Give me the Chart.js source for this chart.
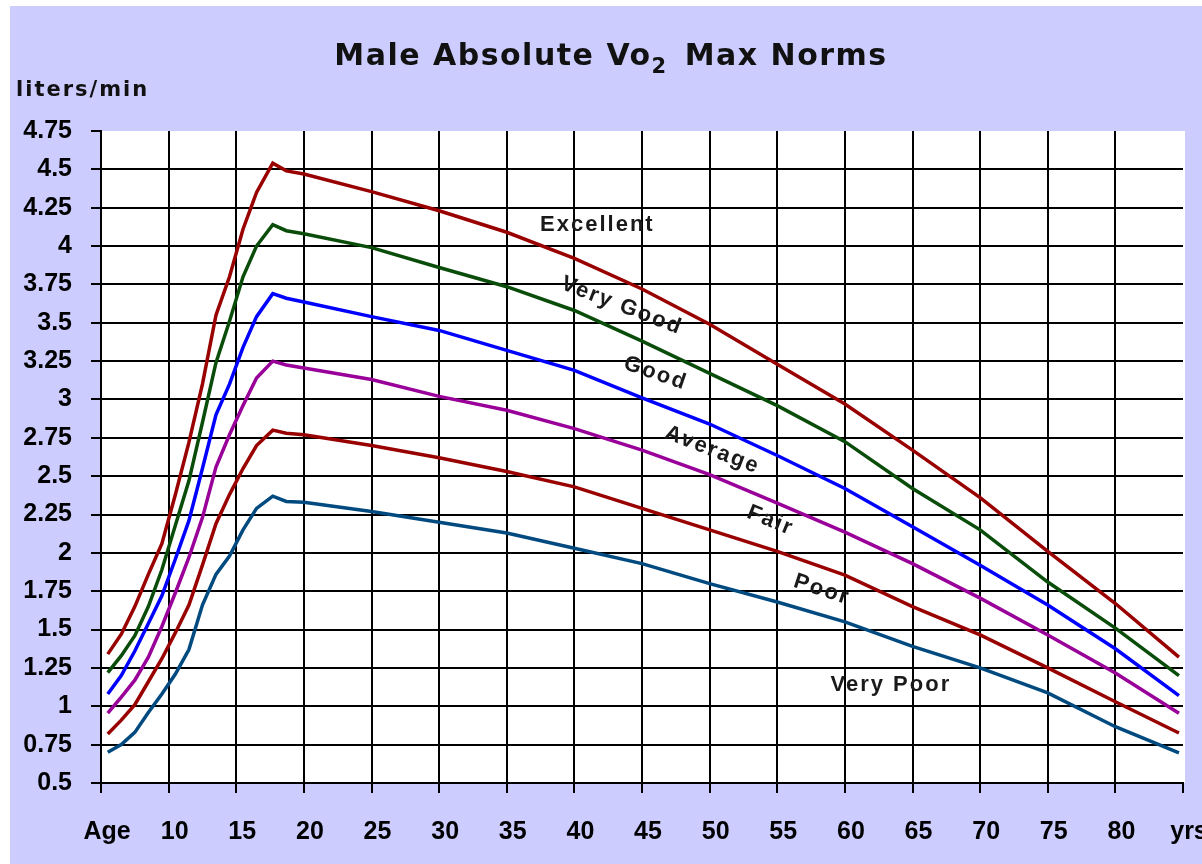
<!DOCTYPE html>
<html>
<head>
<meta charset="utf-8">
<title>Male Absolute Vo2 Max Norms</title>
<script src="https://cdn.jsdelivr.net/npm/chart.js@4.4.1/dist/chart.umd.min.js"></script>
<style>
  html, body { margin: 0; padding: 0; background: #fff; }
</style>
</head>
<body>
<canvas id="vo2Chart" width="1202" height="864"></canvas>
<script>
// Age in years (x) and VO2 max in liters/min (y)
const ages      = [5.5, 6.5, 7.5, 8.5, 9.5, 10.5, 11.5, 12.5, 13.5, 14.5, 15.5, 16.5, 17.7, 18.7, 20, 25, 30, 35, 40, 45, 50, 55, 60, 65, 70, 75, 80, 84.7];
const excellent = [1.34, 1.47, 1.65, 1.86, 2.06, 2.38, 2.72, 3.1, 3.55, 3.8, 4.11, 4.35, 4.54, 4.49, 4.47, 4.355, 4.23, 4.09, 3.92, 3.72, 3.49, 3.23, 2.97, 2.67, 2.36, 2.01, 1.67, 1.32];
const veryGood  = [1.22, 1.33, 1.46, 1.65, 1.89, 2.18, 2.47, 2.85, 3.24, 3.51, 3.8, 4.0, 4.14, 4.1, 4.08, 3.99, 3.86, 3.735, 3.58, 3.38, 3.17, 2.96, 2.725, 2.42, 2.15, 1.81, 1.51, 1.2];
const good      = [1.08, 1.2, 1.36, 1.54, 1.72, 1.96, 2.21, 2.55, 2.9, 3.1, 3.34, 3.54, 3.69, 3.66, 3.635, 3.54, 3.45, 3.32, 3.19, 3.01, 2.84, 2.635, 2.42, 2.17, 1.92, 1.66, 1.375, 1.07];
const average   = [0.955, 1.06, 1.17, 1.32, 1.52, 1.74, 1.97, 2.23, 2.56, 2.77, 2.96, 3.14, 3.25, 3.225, 3.205, 3.13, 3.02, 2.93, 2.81, 2.67, 2.51, 2.325, 2.135, 1.93, 1.705, 1.465, 1.217, 0.955];
const fair      = [0.82, 0.91, 1.01, 1.16, 1.31, 1.48, 1.66, 1.92, 2.19, 2.38, 2.55, 2.7, 2.8, 2.78, 2.77, 2.7, 2.62, 2.53, 2.43, 2.29, 2.15, 2.01, 1.855, 1.65, 1.465, 1.25, 1.03, 0.826];
const veryPoor  = [0.7, 0.75, 0.83, 0.96, 1.08, 1.21, 1.37, 1.66, 1.86, 1.98, 2.15, 2.29, 2.37, 2.335, 2.33, 2.27, 2.2, 2.13, 2.03, 1.93, 1.8, 1.68, 1.55, 1.39, 1.25, 1.087, 0.867, 0.696];

// Axis range and tick labels
const ageMin = 5, ageMax = 85, ageStep = 5;
const voMin = 0.5, voMax = 4.75, voStep = 0.25;
const firstAgeLabel = 'Age';
const lastAgeLabel = 'yrs';

// Curve captions drawn on the plot (age, value, rotation in degrees)
const curveLabels = [
  { text: 'Excellent', age: 41.7, value: 4.14, angle: 0 },
  { text: 'Very Good', age: 43.5, value: 3.61, angle: 21 },
  { text: 'Good',      age: 46.0, value: 3.17, angle: 19 },
  { text: 'Average',   age: 50.2, value: 2.67, angle: 21 },
  { text: 'Fair',      age: 54.5, value: 2.21, angle: 22 },
  { text: 'Poor',      age: 58.3, value: 1.76, angle: 18 },
  { text: 'Very Poor', age: 63.4, value: 1.14, angle: 0 }
];

const series = [
  { label: 'Excellent', data: excellent, color: '#990000' },
  { label: 'Very Good', data: veryGood,  color: '#0a4d0a' },
  { label: 'Good',      data: good,      color: '#0000ff' },
  { label: 'Average',   data: average,   color: '#990099' },
  { label: 'Fair',      data: fair,      color: '#990000' },
  { label: 'Very Poor', data: veryPoor,  color: '#004a80' }
];

// lavender page, white plot area
const backdrop = {
  id: 'backdrop',
  beforeDraw(chart) {
    const { ctx, chartArea: a } = chart;
    ctx.save();
    ctx.fillStyle = '#ffffff';
    ctx.fillRect(0, 0, chart.width, chart.height);
    ctx.fillStyle = '#ccccff';
    ctx.fillRect(10, 6, chart.width - 10, chart.height - 6);
    ctx.fillStyle = '#ffffff';
    ctx.fillRect(a.left, a.top, a.right - a.left + 2, a.bottom - a.top);
    ctx.restore();
  }
};

// title, unit label and curve names
const captions = {
  id: 'captions',
  afterDraw(chart) {
    const { ctx, scales: { x, y } } = chart;
    ctx.save();
    ctx.fillStyle = '#111';
    ctx.textAlign = 'left';
    ctx.textBaseline = 'alphabetic';

    // title with subscript 2
    ctx.letterSpacing = '1.5px';
    const big = 'bold 30px "DejaVu Sans"';
    const small = 'bold 21px "DejaVu Sans"';
    const head = 'Male Absolute Vo', tail = 'Max Norms';
    ctx.font = big;
    const w1 = ctx.measureText(head).width;
    const w3 = ctx.measureText(tail).width;
    ctx.font = small;
    const w2 = ctx.measureText('2').width;
    const gap = 17;
    let tx = 611 - (w1 + w2 + gap + w3) / 2;
    ctx.font = big;
    ctx.fillText(head, tx, 65);
    tx += w1;
    ctx.font = small;
    ctx.fillText('2', tx, 73);
    tx += w2 + gap;
    ctx.font = big;
    ctx.fillText(tail, tx, 65);

    // unit
    ctx.letterSpacing = '2px';
    ctx.font = 'bold 21px "DejaVu Sans"';
    ctx.fillText('liters/min', 16, 96);

    // curve names
    ctx.font = 'bold 22px "Liberation Sans"';
    ctx.textAlign = 'center';
    ctx.textBaseline = 'middle';
    ctx.fillStyle = '#1a1a1a';
    curveLabels.forEach(l => {
      ctx.save();
      ctx.translate(x.getPixelForValue(l.age), y.getPixelForValue(l.value));
      ctx.rotate(l.angle * Math.PI / 180);
      ctx.fillText(l.text, 0, 0);
      ctx.restore();
    });
    ctx.restore();
  }
};

const canvas = document.getElementById('vo2Chart');
canvas.getContext('2d').letterSpacing = '1px';

new Chart(canvas, {
  type: 'line',
  data: {
    labels: ages,
    datasets: series.map(s => ({
      label: s.label,
      data: s.data.map((v, i) => ({ x: ages[i], y: v })),
      borderColor: s.color,
      backgroundColor: s.color,
      borderWidth: 3.5,
      pointRadius: 0,
      tension: 0,
      fill: false
    }))
  },
  options: {
    responsive: false,
    animation: false,
    layout: { padding: { top: 131, right: 19, left: 0, bottom: 0 } },
    plugins: {
      legend: { display: false },
      tooltip: { enabled: false }
    },
    scales: {
      x: {
        type: 'linear',
        min: ageMin,
        max: ageMax,
        afterFit(scale) {
          scale.height = 81;
          scale.paddingLeft = 0;
          scale.paddingRight = 0;
        },
        border: { display: true, color: '#000', width: 2 },
        grid: {
          color: c => (c.tick && (c.tick.value === ageMin || c.tick.value === ageMax)) ? 'rgba(0,0,0,0)' : '#000',
          tickColor: '#000',
          lineWidth: 2,
          tickLength: 10
        },
        ticks: {
          stepSize: ageStep,
          autoSkip: false,
          maxRotation: 0,
          padding: 24,
          labelOffset: 6,
          color: '#000',
          font: { family: '"Liberation Sans", Arial, sans-serif', size: 25, weight: 'bold' },
          callback: v => v === ageMin ? firstAgeLabel : (v === ageMax ? lastAgeLabel : String(v))
        }
      },
      y: {
        type: 'linear',
        min: voMin,
        max: voMax,
        afterFit(scale) {
          scale.width = 101;
          scale.paddingTop = 0;
          scale.paddingBottom = 0;
        },
        border: { display: true, color: '#000', width: 2 },
        grid: {
          color: c => (c.tick && (c.tick.value === voMax || c.tick.value === voMin)) ? 'rgba(0,0,0,0)' : '#000',
          tickColor: '#000',
          lineWidth: 2,
          tickLength: 10
        },
        ticks: {
          stepSize: voStep,
          autoSkip: false,
          padding: 19,
          color: '#000',
          font: { family: '"Liberation Sans", Arial, sans-serif', size: 25, weight: 'bold' },
          callback: v => String(+v.toFixed(2))
        }
      }
    }
  },
  plugins: [backdrop, captions]
});
</script>
</body>
</html>
